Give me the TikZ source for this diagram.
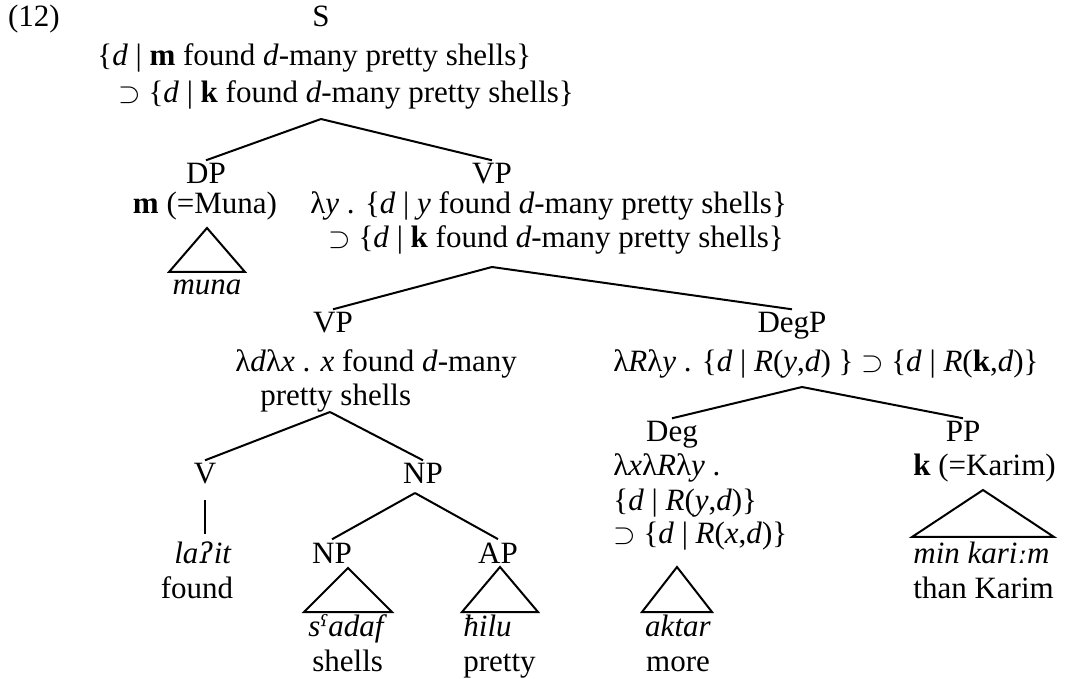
\documentclass[tikz,border=0pt]{standalone}
\usepackage{fontspec}
\setmainfont{Liberation Serif}
\newfontfamily\ipafont[Scale=0.92]{DejaVu Serif}
\usetikzlibrary{calc}

\newcommand{\glot}{{\ipafont\itshape ʔ}}
\newcommand{\phar}{{\ipafont\itshape ˤ}}
\newcommand{\lng}{{\ipafont\itshape ː}}

\begin{document}
\begin{tikzpicture}[x=0.5pt,y=-0.5pt,
  font=\fontsize{15.5}{16.5}\selectfont,
  cat/.style={anchor=base,inner sep=1.5pt},
  sem/.style={anchor=base west,inner sep=0pt},
  leaf/.style={anchor=base,inner sep=1.5pt},
  branch/.style={line width=1pt}]

\useasboundingbox (0,0) rectangle (1067,679);

% ---------- S ----------
\node[cat] (exno) at (34,27) {(12)};
\node[cat] (s) at (321,27) {S};
\node[sem] (sSemA) at (97,66) {\{\textit{d} | \textbf{m} found \textit{d}-many pretty shells\}};
\node[sem] (sSemB) at (118,103) {$\supset$ \{\textit{d} | \textbf{k} found \textit{d}-many pretty shells\}};
\coordinate (sTip) at (321,119);

% ---------- DP / VP ----------
\node[cat] (dp) at (206,184) {DP};
\node[cat] (vp) at (492,184) {VP};
\node[cat] (dpSem) at (205,214) {\textbf{m} (=Muna)};
\node[sem] (vpSemA) at (310,214) {λ\textit{y} . \{\textit{d} | \textit{y} found \textit{d}-many pretty shells\}};
\node[sem] (vpSemB) at (328,248) {$\supset$ \{\textit{d} | \textbf{k} found \textit{d}-many pretty shells\}};
\coordinate (dpTip) at (207,228);
\coordinate (vpTip) at (492,267);
\node[leaf] (muna) at (207,295) {\textit{muna}};

\draw[branch] (sTip) -- (dp.north);
\draw[branch] (sTip) -- (vp.north);
\draw[branch] (dpTip) -- ++(-38,44) -- ++(76,0) -- cycle;

% ---------- VP / DegP ----------
\node[cat] (vpb) at (333,333) {VP};
\node[cat] (degp) at (792,333) {DegP};
\node[sem] (vpbSemA) at (235,372) {λ\textit{d}λ\textit{x} . \textit{x} found \textit{d}-many};
\node[sem] (vpbSemB) at (260,406) {pretty shells};
\node[sem] (degpSem) at (613,372) {λ\textit{R}λ\textit{y} . \{\textit{d} | \textit{R}(\textit{y},\textit{d}) \} $\supset$ \{\textit{d} | \textit{R}(\textbf{k},\textit{d})\}};
\coordinate (vpbTip) at (330,412);
\coordinate (degpTip) at (802,387);

\draw[branch] (vpTip) -- (vpb.north);
\draw[branch] (vpTip) -- (degp.north);

% ---------- V / NP ----------
\node[cat] (v) at (205,484) {V};
\node[cat] (np) at (423,484) {NP};
\node[leaf] (lait) at (203,563) {\textit{la}\glot\textit{it}};
\node[leaf] (found) at (197,598) {found};
\coordinate (npTip) at (415,493);
\node[cat] (npb) at (332,563) {NP};
\node[cat] (ap) at (498,563) {AP};
\coordinate (npbTip) at (348,568);
\coordinate (apTip) at (500,567);
\node[sem] (sadaf) at (308,636) {\textit{s}\phar\textit{adaf}};
\node[sem] (shells) at (312,671) {shells};
\node[sem] (hilu) at (463,636) {\textit{ħilu}};
\node[sem] (pretty) at (463,671) {pretty};

\draw[branch] (vpbTip) -- (v.north);
\draw[branch] (vpbTip) -- (np.north);
\draw[branch,shorten <=6pt,shorten >=2pt] (v.south) -- (v.south |- lait.north);
\draw[branch] (npTip) -- (npb.north);
\draw[branch] (npTip) -- (ap.north);
\draw[branch] (npbTip) -- ++(-44,44) -- ++(88,0) -- cycle;
\draw[branch] (apTip) -- ++(-38,45) -- ++(76,0) -- cycle;

% ---------- Deg / PP ----------
\node[cat] (deg) at (672,442) {Deg};
\node[cat] (pp) at (963,442) {PP};
\node[sem] (degSemA) at (613,476) {λ\textit{x}λ\textit{R}λ\textit{y} .};
\node[sem] (degSemB) at (613,510) {\{\textit{d} | \textit{R}(\textit{y},\textit{d})\}};
\node[sem] (degSemC) at (613,544) {$\supset$ \{\textit{d} | \textit{R}(\textit{x},\textit{d})\}};
\node[sem] (ppSem) at (913,476) {\textbf{k} (=Karim)};
\coordinate (degTip) at (677,567);
\coordinate (ppTip) at (983,490);
\node[leaf] (aktar) at (678,636) {\textit{aktar}};
\node[leaf] (more) at (678,671) {more};
\node[sem] (minKarim) at (913,564) {\textit{min kari}\lng\textit{m}};
\node[sem] (thanKarim) at (913,598) {than Karim};

\draw[branch] (degpTip) -- (deg.north);
\draw[branch] (degpTip) -- (pp.north);
\draw[branch] (degTip) -- ++(-35,45) -- ++(70,0) -- cycle;
\draw[branch] (ppTip) -- ++(-71,47) -- ++(142,0) -- cycle;

\end{tikzpicture}
\end{document}
